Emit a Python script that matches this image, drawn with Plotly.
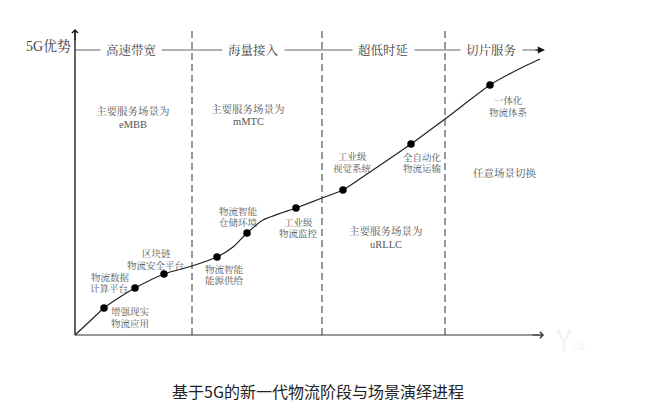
import plotly.graph_objects as go

# Chart units: x grows to the right of the origin, y grows upward from the origin
curve_x = [0, 14, 29, 45, 60, 89, 117, 142, 158, 172, 188, 221, 247, 268, 295, 336, 370, 415, 442, 465]
curve_y = [0, 13, 27, 38, 47, 61, 69, 78, 88, 102, 115, 127, 137, 145, 163, 191, 216, 250, 265, 276]
point_x = [29, 60, 89, 142, 172, 221, 268, 336, 415]
point_y = [27, 47, 61, 78, 102, 127, 145, 191, 250]

divider_x = [117, 247, 370]
divider_top = 305
y_axis_top = 305
x_axis_end = 468
phase_y = 285
phase_line_x = [0, 465]

phase_names = ["高速带宽", "海量接入", "超低时延", "切片服务"]
phase_x = [56, 178, 308, 416]

scene_text = ["主要服务场景为", "eMBB", "主要服务场景为", "mMTC", "主要服务场景为", "uRLLC", "任意场景切换"]
scene_x = [58, 58, 173, 173, 311, 311, 430]
scene_y = [224, 211, 226, 214, 104, 91, 162]

point_labels = ["增强现实", "物流应用", "物流数据", "计算平台", "区块链", "物流安全平台",
                "物流智能", "能源供给", "物流智能", "仓储环境", "工业级", "物流监控",
                "工业级", "视觉系统", "全自动化", "物流运输", "一体化", "物流体系"]
label_x = [55, 55, 35, 34, 81, 81, 149, 149, 163, 163, 223, 223, 277, 277, 347, 347, 433, 433]
label_y = [24, 12, 58, 47, 82, 70, 66, 55, 124, 113, 113, 102, 179, 167, 178, 167, 235, 223]

y_title = "5G优势"
caption = "基于5G的新一代物流阶段与场景演绎进程"

SERIF = "'Liberation Serif','Noto Serif CJK SC','Noto Sans CJK SC',serif"
SANS = "'Noto Sans CJK SC',sans-serif"

fig = go.Figure()

for x in divider_x:
    fig.add_trace(go.Scatter(x=[x, x], y=[0, divider_top], mode="lines",
                             line=dict(color="#555555", width=1.2, dash="7px,4px"), hoverinfo="skip"))

fig.add_trace(go.Scatter(x=phase_line_x, y=[phase_y, phase_y], mode="lines",
                         line=dict(color="#666666", width=1.1), hoverinfo="skip"))
fig.add_trace(go.Scatter(x=[0, x_axis_end], y=[0, 0], mode="lines",
                         line=dict(color="#333333", width=1.2), hoverinfo="skip"))
fig.add_trace(go.Scatter(x=[0, 0], y=[0, y_axis_top], mode="lines",
                         line=dict(color="#111111", width=1.3), hoverinfo="skip"))
fig.add_trace(go.Scatter(x=curve_x, y=curve_y, mode="lines",
                         line=dict(color="#222222", width=1.2, shape="spline", smoothing=0.6), hoverinfo="skip"))
fig.add_trace(go.Scatter(x=point_x, y=point_y, mode="markers",
                         marker=dict(color="#000000", size=7.5), hoverinfo="skip"))

annotations = []


def label(text, x, y, size, color="#555555", family=SERIF, **kw):
    annotations.append(dict(text=text, x=x, y=y, xref="x", yref="y", showarrow=False,
                            xanchor="center", yanchor="middle",
                            font=dict(size=size, color=color, family=family), **kw))


for t, x in zip(phase_names, phase_x):
    label(t, x, phase_y, 12.5, color="#444444", bgcolor="#ffffff", borderpad=5)
for t, x, y in zip(scene_text, scene_x, scene_y):
    label(t, x, y, 10.5, color="#555555")
for t, x, y in zip(point_labels, label_x, label_y):
    label(t, x, y, 9.5, color="#555555")
label(y_title, -27, 289, 14, color="#444444")
label(caption, 243, -56, 16, color="#222222", family=SANS)
label("Y", 488, -3, 30, color="#f3f3f3", family=SANS)
label("亿欧", 503, -11, 7, color="#f3f3f3", family=SANS)

# Arrowheads
annotations.append(dict(x=0, y=y_axis_top + 1, ax=0, ay=y_axis_top - 12, xref="x", yref="y", axref="x", ayref="y",
                        text="", showarrow=True, arrowhead=4, arrowsize=1.1, arrowwidth=1.1, arrowcolor="#111111"))
annotations.append(dict(x=x_axis_end + 1, y=0, ax=x_axis_end - 12, ay=0, xref="x", yref="y", axref="x", ayref="y",
                        text="", showarrow=True, arrowhead=4, arrowsize=1.1, arrowwidth=1.1, arrowcolor="#333333"))
annotations.append(dict(x=phase_line_x[1] + 5, y=phase_y, ax=phase_line_x[1] - 6, ay=phase_y, xref="x", yref="y",
                        axref="x", ayref="y", text="", showarrow=True, arrowhead=2, arrowsize=1.2, arrowwidth=1.2,
                        arrowcolor="#111111"))

fig.update_layout(
    width=669, height=412, margin=dict(l=0, r=0, t=0, b=0),
    paper_bgcolor="#ffffff", plot_bgcolor="#ffffff", showlegend=False,
    # The page adds an 8 px body margin, so the ranges are offset to keep the origin in place
    xaxis=dict(range=[-67, 602], visible=False, fixedrange=True),
    yaxis=dict(range=[-85, 327], visible=False, fixedrange=True),
    annotations=annotations,
)

fig.write_html("out.html", config={"displayModeBar": False})
